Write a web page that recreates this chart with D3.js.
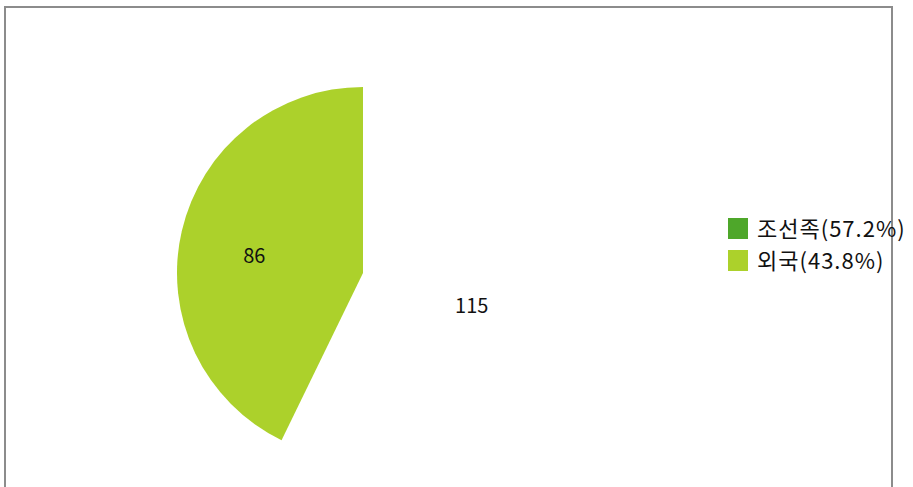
<!DOCTYPE html>
<html>
<head>
<meta charset="utf-8">
<script src="https://cdn.jsdelivr.net/npm/d3@7"></script>
<style>
	body { margin: 0; background: #fff; }
	svg { display: block; font-family: "Noto Sans CJK KR", "Noto Sans", sans-serif; }
</style>
</head>
<body>
<svg id="pie-plot" width="913" height="487"></svg>
<script>

// data
const categories = ["조선족", "외국"];
const counts = [115, 86];
const legend_labels = ["조선족(57.2%)", "외국(43.8%)"];
const slice_colors = ["#ffffff", "#acd12b"]; // first slice renders blank in the original
const legend_colors = ["#4ea72a", "#acd12b"];

const svg = d3.select("#pie-plot");

// outer frame
svg.append("rect")
	.attr("x", 5)
	.attr("y", 7)
	.attr("width", 887)
	.attr("height", 500)
	.style("fill", "none")
	.style("stroke", "#8c8c8c")
	.style("stroke-width", 2);

const cx = 363, cy = 273, radius = 186;

const pie = d3.pie().sort(null).value(d => d.value);
const arc = d3.arc().innerRadius(0).outerRadius(radius);
const label_arc = d3.arc().innerRadius(radius * 0.6).outerRadius(radius * 0.6);

const data = categories.map((c, i) => ({name: c, value: counts[i], idx: i}));
const arcs = pie(data);

const pie_g = svg.append("g")
	.attr("transform", "translate(" + cx + "," + cy + ")");

pie_g.selectAll(".slice")
	.data(arcs)
	.enter()
	.append("path")
	.classed("slice", true)
	.attr("d", arc)
	.style("fill", d => slice_colors[d.data.idx]);

pie_g.selectAll(".slice-label")
	.data(arcs)
	.enter()
	.append("text")
	.classed("slice-label", true)
	.attr("transform", d => "translate(" + label_arc.centroid(d) + ")")
	.attr("text-anchor", "middle")
	.attr("dy", "0.75em")
	.style("font-size", "20px")
	.style("fill", "#111")
	.text(d => d.data.value);

// legend
const legend = svg.append("g")
	.attr("transform", "translate(728, 218)");

const item = legend.selectAll(".legend-item")
	.data(legend_labels)
	.enter()
	.append("g")
	.classed("legend-item", true)
	.attr("transform", (d, i) => "translate(0," + (i * 32) + ")");

item.append("rect")
	.attr("width", 20)
	.attr("height", 21)
	.style("fill", (d, i) => legend_colors[i]);

item.append("text")
	.attr("x", 29)
	.attr("y", 11)
	.attr("dy", "0.38em")
	.style("font-size", "22px")
	.style("letter-spacing", "1px")
	.style("fill", "#111")
	.text(d => d);

</script>
</body>
</html>
